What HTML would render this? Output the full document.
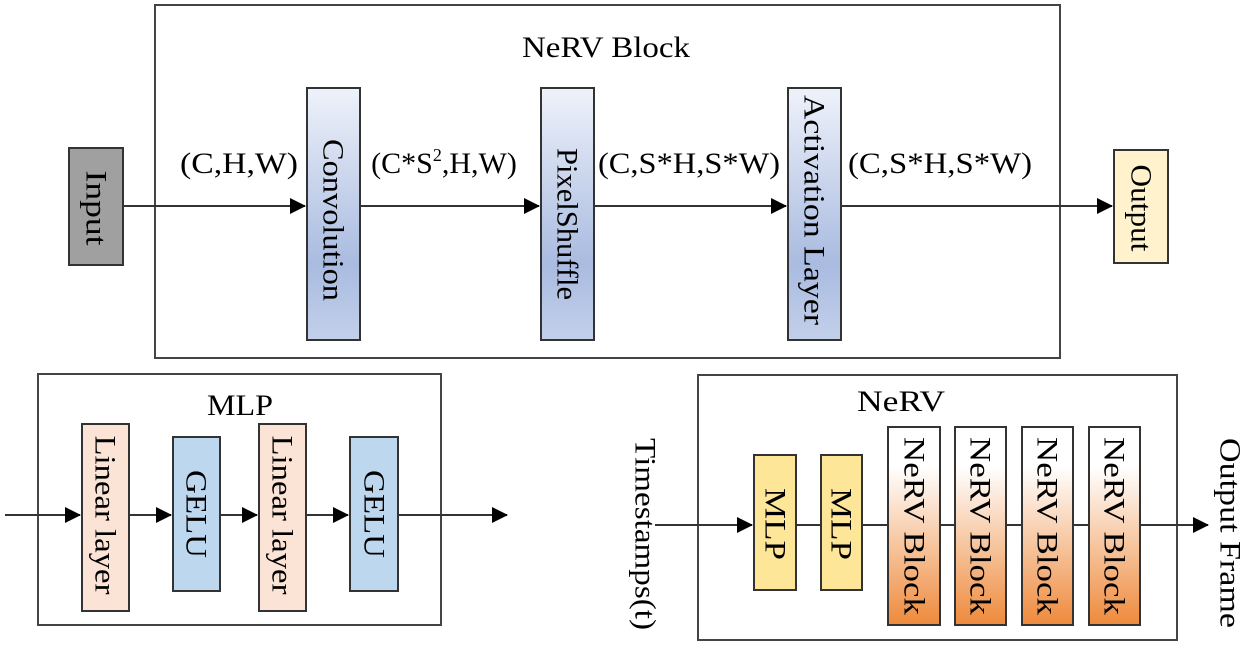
<!DOCTYPE html>
<html><head><meta charset="utf-8"><style>
html,body{margin:0;padding:0;background:#fff;}
svg{display:block;font-family:"Liberation Serif",serif;}
</style></head><body>
<svg width="1250" height="648" viewBox="0 0 1250 648" xmlns="http://www.w3.org/2000/svg">
<defs>
<linearGradient id="blue" x1="0" y1="0" x2="0" y2="1"><stop offset="0" stop-color="#eef2fa"/><stop offset="0.7" stop-color="#a9bbe0"/><stop offset="1" stop-color="#c3d0ea"/></linearGradient>
<linearGradient id="org" x1="0" y1="0" x2="0" y2="1"><stop offset="0" stop-color="#ffffff"/><stop offset="0.2" stop-color="#ffffff"/><stop offset="1" stop-color="#ee8a3c"/></linearGradient>
<marker id="ar2" markerWidth="16" markerHeight="16" refX="15" refY="8" orient="auto" markerUnits="userSpaceOnUse"><path d="M0,0 L16,8 L0,16 z" fill="#000"/></marker>
</defs>
<g stroke="#444" stroke-width="2" fill="none">
<rect x="155" y="5" width="905" height="353"/>
<rect x="38" y="374" width="403" height="251"/>
<rect x="698" y="375" width="479" height="265"/>
</g>
<g stroke="#333" stroke-width="2">
<line x1="123" y1="206" x2="305" y2="206" marker-end="url(#ar2)"/>
<line x1="360" y1="206" x2="539" y2="206" marker-end="url(#ar2)"/>
<line x1="594" y1="206" x2="786" y2="206" marker-end="url(#ar2)"/>
<line x1="841" y1="206" x2="1112" y2="206" marker-end="url(#ar2)"/>
<line x1="5" y1="515" x2="80" y2="515" marker-end="url(#ar2)"/>
<line x1="129" y1="515" x2="171" y2="515" marker-end="url(#ar2)"/>
<line x1="220" y1="515" x2="257" y2="515" marker-end="url(#ar2)"/>
<line x1="306" y1="515" x2="348" y2="515" marker-end="url(#ar2)"/>
<line x1="398" y1="515" x2="507" y2="515" marker-end="url(#ar2)"/>
<line x1="655" y1="525" x2="752" y2="525" marker-end="url(#ar2)"/>
<line x1="796" y1="525" x2="1208" y2="525" marker-end="url(#ar2)"/>
</g>
<g stroke="#333" stroke-width="2">
<rect x="69" y="148" width="54" height="117" fill="#a0a0a0"/>
<rect x="307" y="88" width="53" height="252" fill="url(#blue)"/>
<rect x="541" y="88" width="53" height="252" fill="url(#blue)"/>
<rect x="788" y="88" width="53" height="252" fill="url(#blue)"/>
<rect x="1114" y="150" width="54" height="113" fill="#fff2cc"/>
<rect x="82" y="424" width="47" height="187" fill="#fbe3d5"/>
<rect x="173" y="437" width="47" height="154" fill="#bdd7ee"/>
<rect x="259" y="424" width="47" height="187" fill="#fbe3d5"/>
<rect x="350" y="437" width="48" height="154" fill="#bdd7ee"/>
<rect x="754" y="455" width="42" height="135" fill="#fde698"/>
<rect x="821" y="455" width="41" height="135" fill="#fde698"/>
<rect x="888" y="427" width="52" height="198" fill="url(#org)"/>
<rect x="955" y="427" width="51" height="198" fill="url(#org)"/>
<rect x="1022" y="427" width="51" height="198" fill="url(#org)"/>
<rect x="1089" y="427" width="51" height="198" fill="url(#org)"/>
</g>
<g fill="#000" font-size="30" text-anchor="middle" lengthAdjust="spacingAndGlyphs">
<text x="606" y="57" textLength="168" lengthAdjust="spacingAndGlyphs">NeRV Block</text>
<text x="239" y="173" textLength="118" lengthAdjust="spacingAndGlyphs">(C,H,W)</text>
<text x="444" y="173">(C*S<tspan font-size="18" dy="-12">2</tspan><tspan dy="12">,H,W)</tspan></text>
<text x="689" y="173" textLength="182" lengthAdjust="spacingAndGlyphs">(C,S*H,S*W)</text>
<text x="940" y="173" textLength="184" lengthAdjust="spacingAndGlyphs">(C,S*H,S*W)</text>
<text x="240" y="415" textLength="66" lengthAdjust="spacingAndGlyphs">MLP</text>
<text x="901" y="411" textLength="88" lengthAdjust="spacingAndGlyphs">NeRV</text>
</g>
<g fill="#000" font-size="30" text-anchor="middle" dominant-baseline="central">
<text transform="translate(96,208) rotate(90)" textLength="75" lengthAdjust="spacingAndGlyphs">Input</text>
<text transform="translate(333,220) rotate(90)" textLength="162" lengthAdjust="spacingAndGlyphs">Convolution</text>
<text transform="translate(567,224) rotate(90)" textLength="152" lengthAdjust="spacingAndGlyphs">PixelShuffle</text>
<text transform="translate(814,210) rotate(90)" textLength="230" lengthAdjust="spacingAndGlyphs">Activation Layer</text>
<text transform="translate(1141,208) rotate(90)" textLength="87" lengthAdjust="spacingAndGlyphs">Output</text>
<text transform="translate(105,515) rotate(90)" textLength="159" lengthAdjust="spacingAndGlyphs">Linear layer</text>
<text transform="translate(196,514) rotate(90)" textLength="88" lengthAdjust="spacingAndGlyphs">GELU</text>
<text transform="translate(282,515) rotate(90)" textLength="159" lengthAdjust="spacingAndGlyphs">Linear layer</text>
<text transform="translate(374,514) rotate(90)" textLength="88" lengthAdjust="spacingAndGlyphs">GELU</text>
<text transform="translate(775,524) rotate(90)" textLength="72" lengthAdjust="spacingAndGlyphs">MLP</text>
<text transform="translate(841,524) rotate(90)" textLength="72" lengthAdjust="spacingAndGlyphs">MLP</text>
<text transform="translate(914,526) rotate(90)" textLength="178" lengthAdjust="spacingAndGlyphs">NeRV Block</text>
<text transform="translate(980,526) rotate(90)" textLength="178" lengthAdjust="spacingAndGlyphs">NeRV Block</text>
<text transform="translate(1047,526) rotate(90)" textLength="178" lengthAdjust="spacingAndGlyphs">NeRV Block</text>
<text transform="translate(1114,526) rotate(90)" textLength="178" lengthAdjust="spacingAndGlyphs">NeRV Block</text>
<text transform="translate(645,534) rotate(90)" textLength="192" lengthAdjust="spacingAndGlyphs">Timestamps(t)</text>
<text transform="translate(1230,533) rotate(90)" textLength="190" lengthAdjust="spacingAndGlyphs">Output Frame</text>
</g>
</svg>
</body></html>
